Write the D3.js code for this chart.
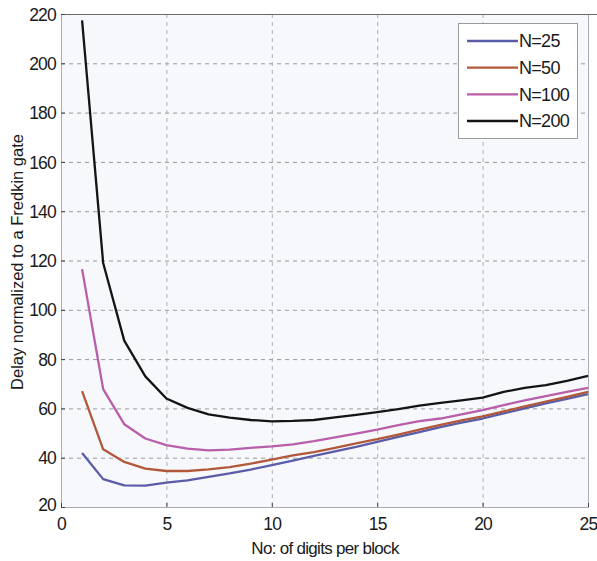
<!DOCTYPE html>
<html>
<head>
<meta charset="utf-8">
<script src="https://cdn.jsdelivr.net/npm/d3@7"></script>
<style>
  html, body { margin: 0; padding: 0; background: #fff; }
  svg { display: block; font-family: "Liberation Sans", Arial, sans-serif; }
</style>
</head>
<body>
<svg id="chart" width="597" height="561"></svg>
<script>
// Digits per block (x) and delay normalized to a Fredkin gate for each N
const digits = d3.range(1, 26);
const delayN25  = [41.9, 31.3, 28.8, 28.7, 29.9, 30.8, 32.2, 33.6, 35.2, 37.0, 38.8, 40.7, 42.6, 44.4, 46.4, 48.4, 50.4, 52.4, 54.2, 55.9, 58.0, 60.0, 62.0, 63.9, 65.8];
const delayN50  = [67.0, 43.4, 38.3, 35.6, 34.6, 34.6, 35.3, 36.2, 37.6, 39.2, 40.9, 42.3, 44.0, 45.8, 47.5, 49.4, 51.4, 53.3, 55.1, 56.8, 58.8, 60.8, 62.8, 64.7, 66.7];
const delayN100 = [116.5, 67.8, 53.6, 47.8, 45.1, 43.7, 43.0, 43.3, 44.0, 44.6, 45.4, 46.7, 48.2, 49.8, 51.4, 53.2, 54.8, 55.9, 57.6, 59.3, 61.3, 63.3, 65.0, 66.7, 68.3];
const delayN200 = [217.4, 119.0, 87.5, 73.0, 64.0, 60.2, 57.6, 56.3, 55.3, 54.7, 54.9, 55.3, 56.4, 57.4, 58.5, 59.7, 61.1, 62.2, 63.3, 64.4, 66.7, 68.3, 69.4, 71.2, 73.2];
const seriesNames = ["N=25", "N=50", "N=100", "N=200"];
const seriesColors = ["#5a5ca8", "#b2583a", "#b95eaa", "#141414"];
const xTicks = [0, 5, 10, 15, 20, 25];
const yTicks = [20, 40, 60, 80, 100, 120, 140, 160, 180, 200, 220];

const series = [delayN25, delayN50, delayN100, delayN200].map((vals, i) => ({
  name: seriesNames[i],
  color: seriesColors[i],
  points: digits.map((d, j) => [d, vals[j]])
}));

const svg = d3.select("#chart");
const plotL = 61, plotR = 588, plotT = 14, plotB = 507;

const x = d3.scaleLinear().domain([0, 25]).range([plotL, plotR]);
const y = d3.scaleLinear().domain([20, 220]).range([plotB, plotT]);

// plot background
svg.append("rect")
  .attr("x", plotL).attr("y", plotT)
  .attr("width", plotR - plotL).attr("height", plotB - plotT)
  .attr("fill", "#f6f8fc");

// dashed grid
const grid = svg.append("g").attr("stroke", "#999").attr("stroke-width", 1)
  .attr("stroke-dasharray", "4,4").attr("fill", "none");
grid.selectAll("line.h").data(yTicks.slice(1, -1)).join("line")
  .attr("class", "h")
  .attr("x1", plotL).attr("x2", plotR)
  .attr("y1", d => y(d) + 0.5).attr("y2", d => y(d) + 0.5);
grid.selectAll("line.v").data(xTicks.slice(1, -1)).join("line")
  .attr("class", "v")
  .attr("y1", plotT).attr("y2", plotB)
  .attr("x1", d => x(d) + 0.5).attr("x2", d => x(d) + 0.5)
  .attr("stroke", "#b0b0b0");

// frame
svg.append("rect")
  .attr("x", plotL + 0.5).attr("y", plotT + 0.5)
  .attr("width", plotR - plotL).attr("height", plotB - plotT)
  .attr("fill", "none").attr("stroke", "#a9acb8").attr("stroke-width", 1);
svg.append("line")
  .attr("x1", plotL).attr("x2", 597).attr("y1", plotT + 0.5).attr("y2", plotT + 0.5)
  .attr("stroke", "#6a6a6a").attr("stroke-width", 1.2);

// axes (inward ticks)
const yAxis = svg.append("g").attr("transform", `translate(${plotL},0)`)
  .call(d3.axisLeft(y).tickValues(yTicks).tickSize(-4).tickPadding(8));
const xAxis = svg.append("g").attr("transform", `translate(0,${plotB})`)
  .call(d3.axisBottom(x).tickValues(xTicks).tickSize(-4).tickPadding(8));
[yAxis, xAxis].forEach(a => {
  a.select(".domain").remove();
  a.selectAll(".tick line").attr("stroke", "#444");
  a.selectAll(".tick text")
    .attr("fill", "#1a1a1a")
    .style("font-size", "17.5px")
    .style("letter-spacing", "-0.8px")
    .style("font-family", "'Liberation Sans', Arial, sans-serif");
});
yAxis.selectAll(".tick text").attr("dx", "3").attr("dy", "0.35em");
yAxis.selectAll(".tick").filter(d => d === 20).select("text").attr("dy", "0.2em");
xAxis.selectAll(".tick text").attr("dy", "0.85em");

// axis titles
svg.append("text")
  .attr("transform", "translate(23,262) rotate(-90)")
  .attr("text-anchor", "middle")
  .attr("fill", "#1a1a1a")
  .style("font-size", "16.5px")
  .text("Delay normalized to a Fredkin gate");
svg.append("text")
  .attr("x", 325).attr("y", 554)
  .attr("text-anchor", "middle")
  .attr("fill", "#1a1a1a")
  .style("font-size", "17px")
  .style("letter-spacing", "-0.7px")
  .text("No: of digits per block");

// curves
const line = d3.line().x(d => x(d[0])).y(d => y(d[1]));
svg.append("g").selectAll("path").data(series).join("path")
  .attr("d", d => line(d.points))
  .attr("fill", "none")
  .attr("stroke", d => d.color)
  .attr("stroke-width", 2.3)
  .attr("stroke-linejoin", "round");

// legend
const legend = svg.append("g");
legend.append("rect")
  .attr("x", 458.5).attr("y", 23.5).attr("width", 119).attr("height", 115)
  .attr("fill", "#fff").attr("stroke", "#9a9a9a").attr("stroke-width", 1);
const rowY = d3.scalePoint().domain(seriesNames).range([41, 121]);
const items = legend.selectAll("g.item").data(series).join("g")
  .attr("class", "item")
  .attr("transform", d => `translate(0,${rowY(d.name)})`);
items.append("line")
  .attr("x1", 467).attr("x2", 518).attr("y1", 0).attr("y2", 0)
  .attr("stroke", d => d.color).attr("stroke-width", 2.3);
items.append("text")
  .attr("x", 519).attr("y", 0).attr("dy", "0.36em")
  .attr("fill", "#1a1a1a")
  .style("font-size", "18px")
  .style("letter-spacing", "-0.7px")
  .text(d => d.name);
</script>
</body>
</html>
